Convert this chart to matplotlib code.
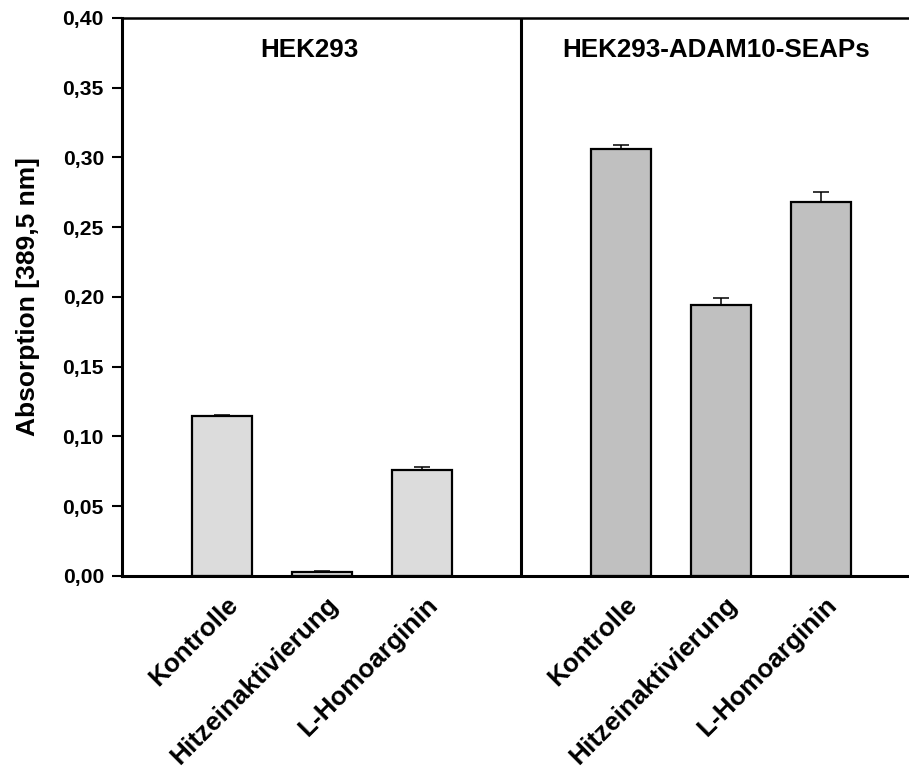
import numpy as np
import matplotlib
matplotlib.use("Agg")
import matplotlib.pyplot as plt
import matplotlib.transforms as mtransforms

plt.rcParams['font.family'] = ['Liberation Sans', 'DejaVu Sans']
plt.rcParams['font.weight'] = 'bold'

groups = ["HEK293", "HEK293-ADAM10-SEAPs"]
treatments = ["Kontrolle", "Hitzeinaktivierung", "L-Homoarginin"]
hek_vals = [0.115, 0.0025, 0.076]
hek_err = [0.0003, 0.0012, 0.0024]
adam_vals = [0.306, 0.1945, 0.268]
adam_err = [0.0026, 0.005, 0.0072]
yticks = [0.00, 0.05, 0.10, 0.15, 0.20, 0.25, 0.30, 0.35, 0.40]

fig = plt.figure(figsize=(9.09, 7.69), dpi=100)
ax = fig.add_axes([0.1342, 0.2510, 0.8658, 0.7256])

pos_left = np.arange(3)
pos_right = np.arange(3) + 4
bw = 0.6

ax.bar(pos_left, hek_vals, width=bw, color="#dcdcdc", edgecolor="black", linewidth=1.6, zorder=2)
ax.bar(pos_right, adam_vals, width=bw, color="#c0c0c0", edgecolor="black", linewidth=1.6, zorder=2)
ax.errorbar(pos_left, hek_vals, yerr=[np.zeros(3), hek_err], fmt="none", ecolor="black",
            elinewidth=1.1, capsize=6, capthick=1.1, zorder=1)
ax.errorbar(pos_right, adam_vals, yerr=[np.zeros(3), adam_err], fmt="none", ecolor="black",
            elinewidth=1.1, capsize=6, capthick=1.1, zorder=1)

# divider between the two cell lines
ax.axvline(3, color="black", linewidth=2.2, zorder=3)

ax.set_xlim(-1.0, 6.88)
ax.set_ylim(0, 0.40)
ax.set_yticks(yticks)
ax.set_yticklabels([f"{v:.2f}".replace(".", ",") for v in yticks], fontsize=15.2, fontweight="bold")
ax.tick_params(axis="y", direction="out", length=7, width=1.5, pad=6)

ax.set_xticks(list(pos_left) + list(pos_right))
ax.set_xticklabels(treatments + treatments, rotation=45, ha="right", va="top",
                   rotation_mode="anchor", fontsize=18.8, fontweight="bold")
ax.tick_params(axis="x", length=0, pad=12)
offset = mtransforms.ScaledTranslation(4 / 100, 0, fig.dpi_scale_trans)
for lab in ax.get_xticklabels():
    lab.set_transform(lab.get_transform() + offset)

ax.spines["right"].set_visible(False)
ax.spines["left"].set_linewidth(2.2)
ax.spines["bottom"].set_linewidth(2.2)
ax.spines["top"].set_linewidth(1.8)

ax.text(0.88, 0.377, groups[0], ha="center", va="center", fontsize=18.7, fontweight="bold")
ax.text(4.95, 0.377, groups[1], ha="center", va="center", fontsize=18.7, fontweight="bold")

ax.set_ylabel("Absorption [389,5 nm]", fontsize=19, fontweight="bold")
ax.yaxis.set_label_coords(-0.104, 0.5)

fig.savefig("out.png", dpi=100)
